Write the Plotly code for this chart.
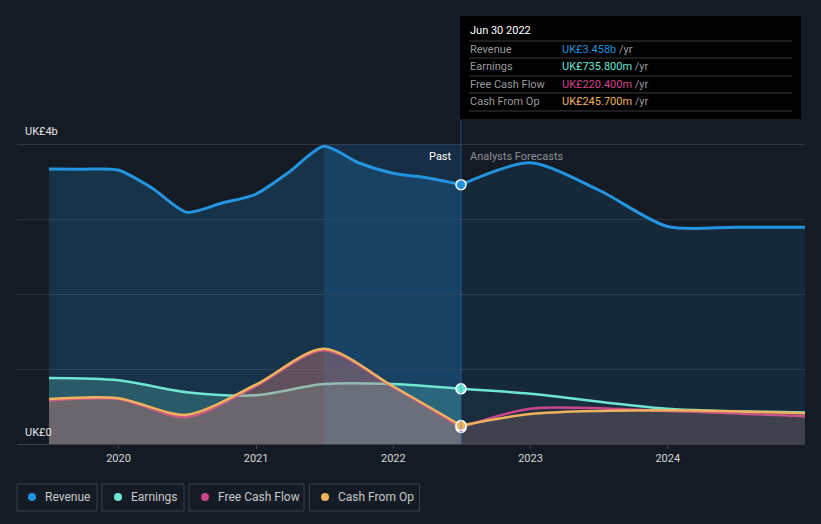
import plotly.graph_objects as go

# ---------------- data (UK£ billions) ----------------
rev_past_dates = ["2019-06-30", "2019-09-30", "2019-12-31", "2020-03-31", "2020-06-30", "2020-09-30",
                  "2020-12-31", "2021-03-31", "2021-06-30", "2021-09-30", "2021-12-31", "2022-03-31",
                  "2022-06-30"]
rev_past = [3.667, 3.665, 3.653, 3.41, 3.09, 3.21, 3.33, 3.63, 3.97, 3.75, 3.61, 3.55, 3.458]

past_dates = ["2019-06-30", "2019-12-31", "2020-06-30", "2020-12-31", "2021-06-30", "2021-12-31", "2022-06-30"]
earn_past = [0.88, 0.85, 0.69, 0.65, 0.80, 0.80, 0.7358]
fcf_past = [0.58, 0.60, 0.36, 0.77, 1.25, 0.76, 0.2204]
cfo_past = [0.60, 0.61, 0.39, 0.79, 1.27, 0.77, 0.2457]

rev_fc_dates = ["2022-06-30", "2022-12-31", "2023-06-30", "2023-12-31", "2024-06-30", "2024-12-31"]
rev_fc = [3.458, 3.75, 3.39, 2.90, 2.89, 2.89]

fc_dates = ["2022-06-30", "2022-12-31", "2023-12-31", "2024-12-31"]
earn_fc = [0.7358, 0.67, 0.47, 0.42]
fcf_fc = [0.2204, 0.47, 0.44, 0.37]
cfo_fc = [0.2457, 0.40, 0.45, 0.41]

tick_years = ["2020", "2021", "2022", "2023", "2024"]

C_REV = "#2394df"
C_EARN = "#6ee6d3"
C_FCF = "#c9468a"
C_CFO = "#f0b35d"
BG = "#151b24"
FONT = "Roboto"

W, H = 821, 524
L, R, T, B = 17, 805, 144, 444


def pxx(px):
    return (px - L) / (R - L)


def pxy(py):
    return (B - py) / (B - T)


def rgba(hexc, a):
    h = hexc.lstrip("#")
    return "rgba(%d,%d,%d,%s)" % (int(h[0:2], 16), int(h[2:4], 16), int(h[4:6], 16), a)


fig = go.Figure()


def area(x, y, color, fillc, width=2.5, smoothing=0.8):
    fig.add_trace(go.Scatter(
        x=x, y=y, mode="lines",
        line=dict(color=color, width=width, shape="spline", smoothing=smoothing),
        fill="tozeroy", fillcolor=fillc,
        hoverinfo="skip", showlegend=False))


# past
area(rev_past_dates, rev_past, C_REV, rgba(C_REV, 0.2), 3, 0.7)
area(past_dates, earn_past, C_EARN, rgba(C_EARN, 0.22))
area(past_dates, fcf_past, C_FCF, rgba(C_FCF, 0.18))
area(past_dates, cfo_past, C_CFO, "rgba(215,150,115,0.26)")
# forecast
area(rev_fc_dates, rev_fc, C_REV, rgba(C_REV, 0.12), 3, 0.75)
area(fc_dates, earn_fc, C_EARN, rgba(C_EARN, 0.03))
area(fc_dates, fcf_fc, C_FCF, rgba(C_FCF, 0.08))
area(fc_dates, cfo_fc, C_CFO, "rgba(200,170,130,0.16)")

# hover markers
for val, col in [(rev_past[-1], C_REV), (earn_past[-1], C_EARN), (fcf_past[-1], C_FCF), (cfo_past[-1], C_CFO)]:
    fig.add_trace(go.Scatter(
        x=[past_dates[-1]], y=[val], mode="markers",
        marker=dict(size=10, color=col, line=dict(color="white", width=1.5)),
        hoverinfo="skip", showlegend=False, cliponaxis=False))

shapes = []
annotations = []

# highlight band (last year of past)
shapes.append(dict(type="rect", xref="x", yref="paper", x0="2021-06-30", x1="2022-06-30",
                   y0=0, y1=1, fillcolor="rgba(33,150,243,0.16)", line=dict(width=0), layer="below"))
# vertical line at hover date
shapes.append(dict(type="line", xref="x", yref="paper", x0="2022-06-30", x1="2022-06-30",
                   y0=0, y1=pxy(120), line=dict(color="rgba(33,130,210,0.35)", width=1.5)))
# top gridline (4b) stronger
shapes.append(dict(type="line", xref="paper", yref="y", x0=0, x1=1, y0=4, y1=4,
                   line=dict(color="#4a4f57", width=1)))

# tooltip box
shapes.append(dict(type="rect", xref="paper", yref="paper", x0=pxx(460), x1=pxx(801),
                   y0=pxy(119), y1=pxy(16), fillcolor="#000000", line=dict(width=0)))
for sy in [41, 58, 76, 93, 111]:
    shapes.append(dict(type="line", xref="paper", yref="paper", x0=pxx(469), x1=pxx(792),
                       y0=pxy(sy), y1=pxy(sy), line=dict(color="#3a3a3a", width=1)))

annotations.append(dict(xref="paper", yref="paper", x=pxx(468), y=pxy(31), xanchor="left", yanchor="middle",
                        text="Jun 30 2022", showarrow=False, font=dict(family=FONT, size=11, color="#ffffff")))
rows = [("Revenue", "UK£3.458b", C_REV, 49),
        ("Earnings", "UK£735.800m", C_EARN, 66),
        ("Free Cash Flow", "UK£220.400m", "#d2458c", 84),
        ("Cash From Op", "UK£245.700m", C_CFO, 101)]
for lab, val, col, yy in rows:
    annotations.append(dict(xref="paper", yref="paper", x=pxx(468), y=pxy(yy), xanchor="left", yanchor="middle",
                            text=lab, showarrow=False, font=dict(family=FONT, size=11, color="#9a9a9a")))
    annotations.append(dict(xref="paper", yref="paper", x=pxx(560), y=pxy(yy), xanchor="left", yanchor="middle",
                            text="<span style='color:%s'>%s</span> /yr" % (col, val), showarrow=False,
                            font=dict(family=FONT, size=11, color="#9a9a9a")))

# y labels
annotations.append(dict(xref="paper", yref="paper", x=pxx(23), y=pxy(131), xanchor="left", yanchor="middle",
                        text="UK£4b", showarrow=False, font=dict(family=FONT, size=11, color="#e6e6e6")))
annotations.append(dict(xref="paper", yref="paper", x=pxx(23), y=pxy(432), xanchor="left", yanchor="middle",
                        text="UK£0", showarrow=False, font=dict(family=FONT, size=11, color="#e6e6e6")))

# Past / Analysts Forecasts
annotations.append(dict(xref="paper", yref="paper", x=pxx(454), y=pxy(156), xanchor="right", yanchor="middle",
                        text="Past", showarrow=False, font=dict(family=FONT, size=11, color="#ffffff")))
annotations.append(dict(xref="paper", yref="paper", x=pxx(468), y=pxy(156), xanchor="left", yanchor="middle",
                        text="Analysts Forecasts", showarrow=False, font=dict(family=FONT, size=11, color="#8c9096")))

# legend boxes
legend_items = [("Revenue", C_REV, 17, 97, 32, 43),
                ("Earnings", C_EARN, 102, 184, 118, 129),
                ("Free Cash Flow", C_FCF, 189, 304, 205, 216),
                ("Cash From Op", C_CFO, 309.5, 419.5, 325, 336)]
for lab, col, bx0, bx1, dx, tx in legend_items:
    shapes.append(dict(type="rect", xref="paper", yref="paper", x0=pxx(bx0), x1=pxx(bx1),
                       y0=pxy(511), y1=pxy(484), line=dict(color="#3a404a", width=1), fillcolor="rgba(0,0,0,0)"))
    shapes.append(dict(type="circle", xref="paper", yref="paper", xsizemode="pixel", ysizemode="pixel",
                       xanchor=pxx(dx), yanchor=pxy(497), x0=-4, x1=4, y0=-4, y1=4,
                       fillcolor=col, line=dict(width=0)))
    annotations.append(dict(xref="paper", yref="paper", x=pxx(tx), y=pxy(497), xanchor="left", yanchor="middle",
                            text=lab, showarrow=False, font=dict(family=FONT, size=12, color="#c8c8c8")))

fig.update_layout(
    width=W, height=H,
    margin=dict(l=L, r=W - R, t=T, b=H - B),
    paper_bgcolor=BG, plot_bgcolor=BG,
    showlegend=False,
    shapes=shapes, annotations=annotations,
    xaxis=dict(type="date", range=["2019-04-06", "2024-12-31"],
               tickvals=[y + "-01-01" for y in tick_years], ticktext=tick_years,
               showgrid=False, zeroline=False,
               showline=True, linecolor="#3a3f47", linewidth=1,
               ticks="outside", ticklen=4, tickcolor="#3a3f47",
               tickfont=dict(family=FONT, size=11, color="#d6d6d6")),
    yaxis=dict(range=[0, 4], tickvals=[1, 2, 3], showticklabels=False,
               showgrid=True, gridcolor="#2a313b", gridwidth=1, zeroline=False),
)

fig.write_html("out.html", config={"displayModeBar": False},
               post_script="document.body.style.margin='0';document.body.style.background='%s';" % BG)
